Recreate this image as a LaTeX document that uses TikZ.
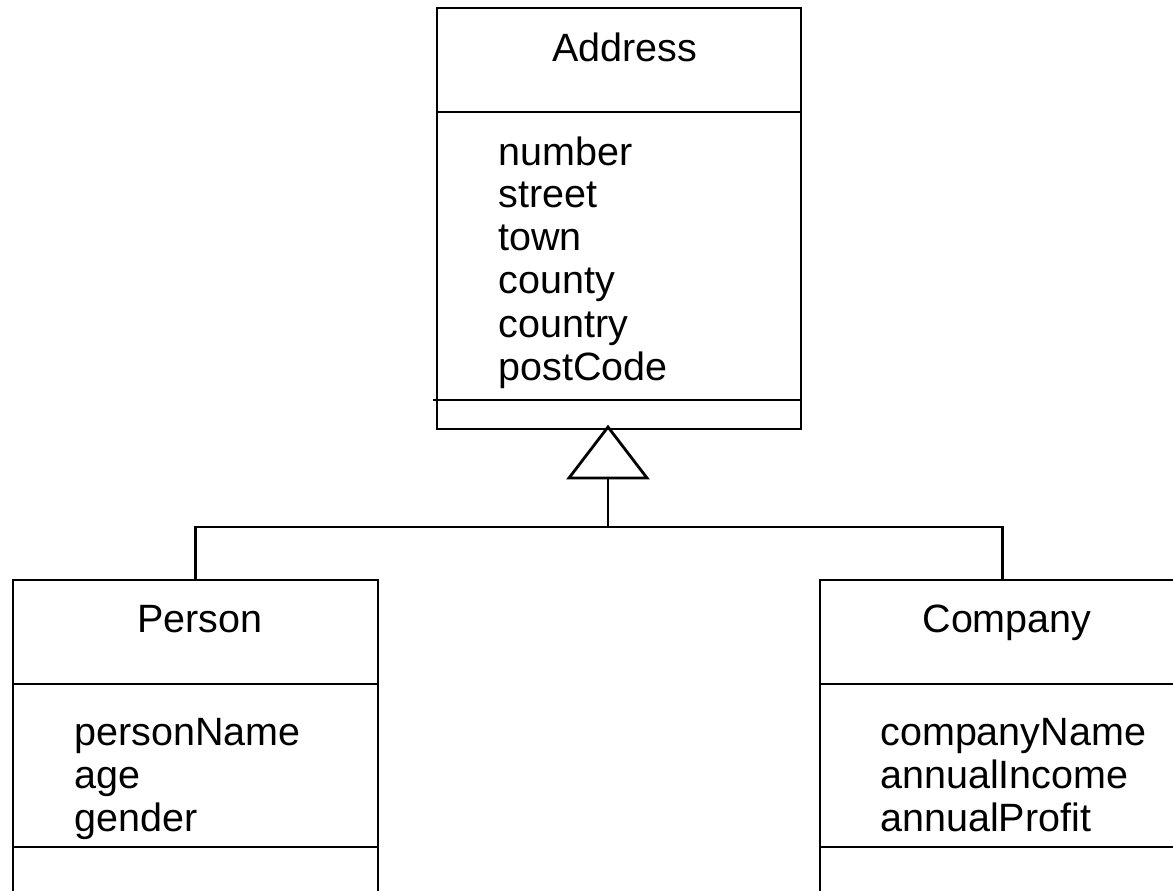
\documentclass[tikz,border=0pt]{standalone}
\usepackage{fontspec}
\setmainfont{Liberation Sans}
\begin{document}
\begin{tikzpicture}[x=1pt,y=-1pt,
  line width=2.8pt,
  classbox/.style={draw,rectangle,inner sep=0pt,line width=2.8pt},
  title/.style={anchor=base,inner sep=0pt,font=\fontsize{39.5}{43}\selectfont},
  attr/.style={anchor=base west,inner sep=0pt,font=\fontsize{39.5}{43}\selectfont}]
  \useasboundingbox (0,0) rectangle (1173,891);
  \clip (0,0) rectangle (1173,891);

  % class boxes (the lower two run past the bottom edge)
  \node[classbox,minimum width=364pt,minimum height=421pt] (addr) at (619,218.5) {};
  \node[classbox,minimum width=365pt,minimum height=360pt] (person) at (195.5,760) {};
  \node[classbox,minimum width=365pt,minimum height=360pt] (company) at (1002.5,760) {};

  % compartment dividers
  \draw (437,112) -- (801,112);
  \draw (433,400) -- (801,400);
  \draw (13,684) -- (378,684);
  \draw (13,847) -- (378,847);
  \draw (820,684) -- (1185,684);
  \draw (820,847) -- (1185,847);

  % class names
  \node[title] (addrname) at (625,62) {Address};
  \node[title] (personname) at (200,632) {Person};
  \node[title] (companyname) at (1007,632) {Company};

  % attributes
  \node[attr] (a1) at (497,165) {number};
  \node[attr] (a2) at (497,207) {street};
  \node[attr] (a3) at (497,250) {town};
  \node[attr] (a4) at (497,293) {county};
  \node[attr] (a5) at (497,337) {country};
  \node[attr] (a6) at (497,380) {postCode};

  \node[attr] (p1) at (73,745) {personName};
  \node[attr] (p2) at (73,788) {age};
  \node[attr] (p3) at (73,831) {gender};

  \node[attr] (c1) at (879,745) {companyName};
  \node[attr] (c2) at (879,788) {annualIncome};
  \node[attr] (c3) at (879,831) {annualProfit};

  % generalisation: hollow triangle under Address
  \coordinate (apex) at (608,427);
  \coordinate (tribase) at (608,478);
  \coordinate (junction) at (608,527);
  \draw[line join=miter] (apex) -- (569,478) -- (647,478) -- cycle;
  \draw (tribase) -- (junction);
  \draw (person.north) |- (junction) -| (company.north);
\end{tikzpicture}
\end{document}
